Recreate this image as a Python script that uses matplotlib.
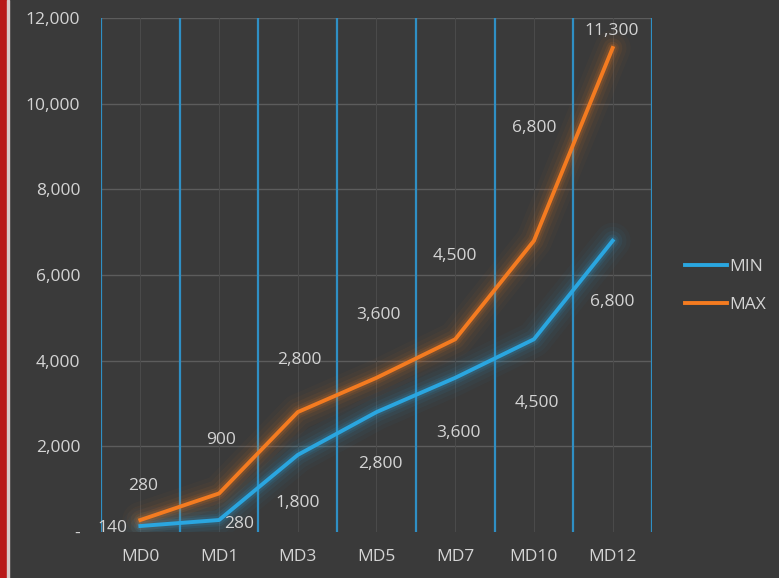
import matplotlib.pyplot as plt
import matplotlib.patches as mpatches
import numpy as np

categories = ["MD0", "MD1", "MD3", "MD5", "MD7", "MD10", "MD12"]
min_values = [140, 280, 1800, 2800, 3600, 4500, 6800]
max_values = [280, 900, 2800, 3600, 4500, 6800, 11300]
y_ticks = [0, 2000, 4000, 6000, 8000, 10000, 12000]

# label offsets in pixels (dx, dy), positive dy = up
min_offsets = [(-28, -2), (20, -4), (0, -48), (4, -52), (3, -55), (3, -64), (0, -61)]
max_offsets = [(3, 34), (2, 53), (2, 52), (2, 63), (0, 83), (0, 113), (-1, 17)]

bg = "#3a3a3a"
txt = "#d4d4d4"
blue = "#2aa6e0"
orange = "#f47b20"
fs = 12.5

plt.rcParams['font.family'] = ['Open Sans', 'DejaVu Sans']

fig = plt.figure(figsize=(7.79, 5.78), dpi=100, facecolor=bg)
ax = fig.add_axes([101 / 779, 1 - 532 / 578, 551 / 779, 514 / 578])
ax.set_facecolor(bg)

x = np.arange(len(categories))
ax.set_xlim(-0.5, len(categories) - 0.5)
ax.set_ylim(0, 12000)

for yv in y_ticks[1:]:
    ax.axhline(yv, color="#5c5c5c", lw=1, zorder=1)
for xv in x:
    ax.axvline(xv, color="#4a4a4a", lw=0.8, zorder=1)
for xv in np.arange(-0.5, len(categories), 1.0):
    ax.axvline(xv, color="#2f8fc4", lw=1.6, zorder=2)

def glow_line(vals, color, label):
    for w, a in [(26, 0.03), (20, 0.045), (14, 0.065), (9, 0.1), (6, 0.15)]:
        ax.plot(x, vals, color=color, lw=w, alpha=a, solid_capstyle="round", zorder=3)
    ax.plot(x, vals, color=color, lw=2.8, zorder=4, label=label)

glow_line(min_values, blue, "MIN")
glow_line(max_values, orange, "MAX")

for vals, offs in [(min_values, min_offsets), (max_values, max_offsets)]:
    for xi, v, (dx, dy) in zip(x, vals, offs):
        ax.annotate(f"{v:,}", (xi, v), xytext=(dx * 0.72, dy * 0.72), textcoords="offset points",
                    ha="center", va="center", color=txt, fontsize=fs, zorder=5)

ax.set_xticks(x)
ax.set_xticklabels(categories)
ax.set_yticks(y_ticks)
ax.set_yticklabels(["-" if t == 0 else f"{t:,}" for t in y_ticks])
ax.tick_params(colors=txt, labelsize=fs, length=0)
ax.tick_params(axis="x", pad=12)
ax.tick_params(axis="y", pad=15)
for s in ax.spines.values():
    s.set_visible(False)

ax.legend(loc="center left", bbox_to_anchor=(1.048, 0.479), frameon=False,
          labelcolor=txt, fontsize=fs, handlelength=2.4, handletextpad=0.15,
          labelspacing=1.25, borderaxespad=0)

# red strip at the left edge of the photo
fig.patches.append(mpatches.Rectangle((0, 0), 7 / 779, 1, transform=fig.transFigure,
                                      color="#b81818", zorder=0))
fig.patches.append(mpatches.Rectangle((7 / 779, 0), 1.5 / 779, 1, transform=fig.transFigure,
                                      color="#d8c8c8", zorder=0))

plt.savefig("out.png", dpi=100, facecolor=bg)
